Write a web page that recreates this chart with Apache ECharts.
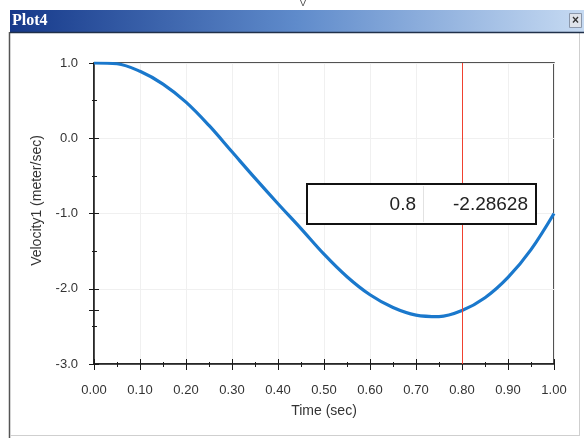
<!DOCTYPE html>
<html>
<head>
<meta charset="utf-8">
<title>Plot4</title>
<script src="https://cdn.jsdelivr.net/npm/echarts@6/dist/echarts.min.js"></script>
<style>
    html, body { margin: 0; padding: 0; background: #ffffff; }
    #plot4 { width: 584px; height: 438px; }
</style>
</head>
<body>
<div id="plot4"></div>
<script>
// values
var time = [0.00, 0.05, 0.10, 0.15, 0.20, 0.25, 0.30, 0.35, 0.40, 0.45, 0.50,
            0.55, 0.60, 0.65, 0.70, 0.75, 0.80, 0.85, 0.90, 0.95, 1.00];
var velocity1 = [1.00, 0.99, 0.89, 0.72, 0.48, 0.17, -0.18, -0.53, -0.87, -1.20, -1.54,
                 -1.84, -2.08, -2.25, -2.35, -2.37, -2.29, -2.12, -1.85, -1.48, -1.00];
var xTicks = [0.0, 0.1, 0.2, 0.3, 0.4, 0.5, 0.6, 0.7, 0.8, 0.9, 1.0];
var yTicks = [1, 0, -1, -2, -3];
var cursorTime = 0.8;
var cursorValue = -2.28628;

var title = "Plot4";
var font = "'Liberation Sans', Arial, sans-serif";

function createChart(div) {
    var myChart = echarts.init(document.getElementById(div));
    var points = [];
    for (var i = 0; i < time.length; i++) {
        points.push([time[i], velocity1[i]]);
    }

    var option = {
        backgroundColor: "#ffffff",
        animation: false,
        grid: {
            left: 94,
            top: 63,
            right: 30,
            bottom: 74,
            show: true,
            backgroundColor: "#ffffff",
            borderColor: "#1a1a1a",
            borderWidth: 1.5,
            outerBoundsMode: "none",
        },
        xAxis: [{
                type: "value",
                position: "bottom",
                min: xTicks[0],
                max: xTicks[xTicks.length - 1],
                interval: 0.1,
                name: "Time (sec)",
                nameLocation: "middle",
                nameGap: 40,
                nameTextStyle: { color: "#333", fontSize: 14, fontFamily: font },
                axisLine: { onZero: false, lineStyle: { color: "#1a1a1a", width: 1.5 } },
                axisTick: { show: true, inside: false, length: 6, lineStyle: { color: "#1a1a1a" } },
                minorTick: { show: true, splitNumber: 2, length: 3, lineStyle: { color: "#1a1a1a" } },
                axisLabel: {
                    margin: 20,
                    color: "#333",
                    fontSize: 13,
                    fontFamily: font,
                    formatter: function(v) { return v.toFixed(2); },
                },
                splitLine: { show: true, lineStyle: { color: "#f0f0f0" } },
            },
            {
                // inner half of the crossing ticks
                type: "value",
                position: "bottom",
                min: xTicks[0],
                max: xTicks[xTicks.length - 1],
                interval: 0.1,
                axisLine: { show: false, onZero: false },
                axisTick: { show: true, inside: true, length: 5, lineStyle: { color: "#1a1a1a" } },
                minorTick: { show: true, splitNumber: 2, length: 2, lineStyle: { color: "#1a1a1a" } },
                axisLabel: { show: false },
                splitLine: { show: false },
            },
        ],
        yAxis: [{
                type: "value",
                position: "left",
                min: yTicks[yTicks.length - 1],
                max: yTicks[0],
                interval: 1,
                name: "Velocity1 (meter/sec)",
                nameLocation: "middle",
                nameGap: 50,
                nameTextStyle: {
                    color: "#333",
                    fontSize: 14,
                    fontFamily: font,
                    padding: [0, 0, 0, 26],
                },
                axisLine: { onZero: false, lineStyle: { color: "#1a1a1a", width: 1.5 } },
                axisTick: { show: true, inside: false, length: 5, lineStyle: { color: "#1a1a1a" } },
                minorTick: { show: true, splitNumber: 2, length: 2, lineStyle: { color: "#1a1a1a" } },
                axisLabel: {
                    margin: 16,
                    color: "#333",
                    fontSize: 13,
                    fontFamily: font,
                    formatter: function(v) { return v.toFixed(1); },
                },
                splitLine: { show: true, lineStyle: { color: "#f0f0f0" } },
            },
            {
                type: "value",
                position: "left",
                min: yTicks[yTicks.length - 1],
                max: yTicks[0],
                interval: 1,
                axisLine: { show: false, onZero: false },
                axisTick: {
                    show: true,
                    inside: true,
                    length: 5,
                    customValues: yTicks.concat([cursorValue]),
                    lineStyle: { color: "#1a1a1a" },
                },
                minorTick: { show: true, splitNumber: 2, length: 3, lineStyle: { color: "#1a1a1a" } },
                axisLabel: { show: false },
                splitLine: { show: false },
            },
            {
                // cursor mark on the outer side
                type: "value",
                position: "left",
                min: yTicks[yTicks.length - 1],
                max: yTicks[0],
                interval: 1,
                axisLine: { show: false, onZero: false },
                axisTick: {
                    show: true,
                    inside: false,
                    length: 5,
                    customValues: [cursorValue],
                    lineStyle: { color: "#1a1a1a" },
                },
                axisLabel: { show: false },
                splitLine: { show: false },
            },
        ],
        series: [{
            name: "Velocity1",
            type: "line",
            xAxisIndex: 0,
            yAxisIndex: 0,
            data: points,
            smooth: 0.35,
            showSymbol: false,
            lineStyle: { color: "#1a78cc", width: 3.2 },
            z: 3,
            markLine: {
                silent: true,
                symbol: ["none", "none"],
                label: { show: false },
                lineStyle: { color: "#f0412f", width: 1, type: "solid" },
                data: [{ xAxis: cursorTime }],
            },
        }],
        graphic: [
            // window chrome
            {
                type: "text",
                left: 300,
                top: -1,
                style: { text: "V", fill: "#444", font: "9px " + font },
            },
            {
                type: "rect",
                shape: { x: 10, y: 10, width: 574, height: 22 },
                style: {
                    fill: new echarts.graphic.LinearGradient(0, 0, 1, 0, [
                        { offset: 0, color: "#16398a" },
                        { offset: 0.5, color: "#5f8bcb" },
                        { offset: 1, color: "#c6daf2" },
                    ]),
                },
                z: 50,
            },
            {
                type: "line",
                shape: { x1: 10, y1: 32.5, x2: 584, y2: 32.5 },
                style: { stroke: "#20304a", lineWidth: 1.5 },
                z: 51,
            },
            {
                type: "text",
                x: 12,
                y: 21,
                style: {
                    text: title,
                    fill: "#ffffff",
                    font: "bold 16px 'Liberation Serif', 'DejaVu Serif', serif",
                    verticalAlign: "middle",
                },
                z: 52,
            },
            {
                type: "rect",
                shape: { x: 569.5, y: 13.5, width: 12, height: 14 },
                style: { fill: "#dfe3ea", stroke: "#8b97aa", lineWidth: 1 },
                z: 52,
            },
            {
                type: "text",
                x: 575.5,
                y: 20.5,
                style: {
                    text: "×",
                    fill: "#333",
                    font: "bold 12px " + font,
                    align: "center",
                    verticalAlign: "middle",
                },
                z: 53,
            },
            {
                type: "line",
                shape: { x1: 9.5, y1: 32, x2: 9.5, y2: 438 },
                style: { stroke: "#555", lineWidth: 1.5 },
                z: 50,
            },
            {
                type: "line",
                shape: { x1: 579.5, y1: 32, x2: 579.5, y2: 436 },
                style: { stroke: "#cfcfcf", lineWidth: 1 },
                z: 50,
            },
            {
                type: "line",
                shape: { x1: 10, y1: 435.5, x2: 580, y2: 435.5 },
                style: { stroke: "#cfcfcf", lineWidth: 1 },
                z: 50,
            },
            // cursor readout box
            {
                type: "rect",
                shape: { x: 307, y: 184, width: 229, height: 40 },
                style: { fill: "#ffffff", stroke: "#111", lineWidth: 2 },
                z: 60,
            },
            {
                type: "line",
                shape: { x1: 423.5, y1: 186, x2: 423.5, y2: 222 },
                style: { stroke: "#e2e2e2", lineWidth: 1 },
                z: 61,
            },
            {
                type: "text",
                x: 416,
                y: 205,
                style: {
                    text: String(cursorTime),
                    fill: "#222",
                    font: "19px " + font,
                    align: "right",
                    verticalAlign: "middle",
                },
                z: 62,
            },
            {
                type: "text",
                x: 528,
                y: 205,
                style: {
                    text: String(cursorValue),
                    fill: "#222",
                    font: "19px " + font,
                    align: "right",
                    verticalAlign: "middle",
                },
                z: 62,
            },
        ],
    };
    myChart.setOption(option);
}

createChart("plot4");
</script>
</body>
</html>
